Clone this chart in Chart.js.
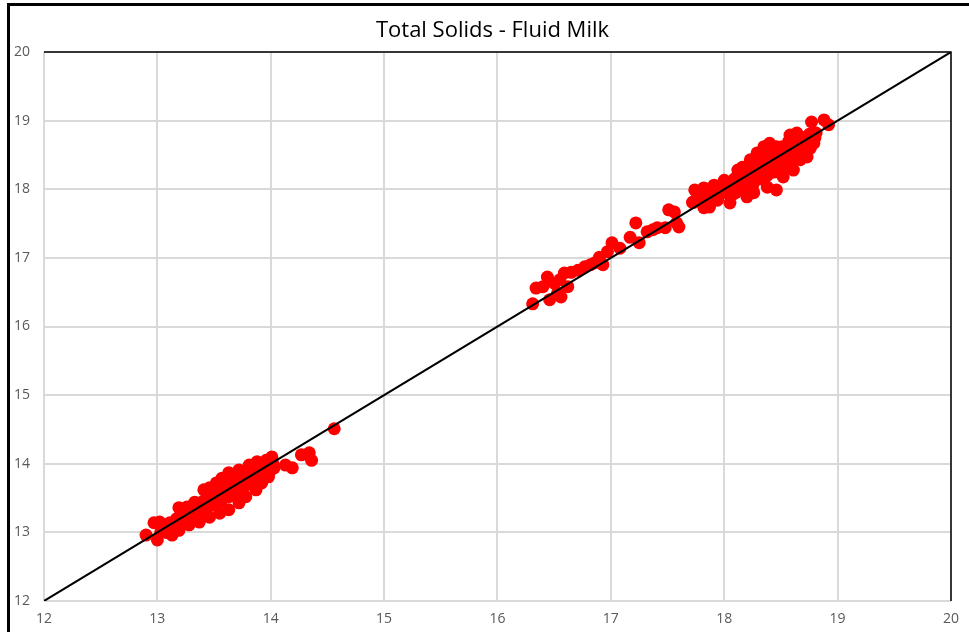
<!DOCTYPE html>
<html>
<head>
<meta charset="utf-8">
<script src="https://cdn.jsdelivr.net/npm/chart.js@4.4.1/dist/chart.umd.min.js"></script>
<style>
  html, body { margin: 0; padding: 0; background: #fff; }
  canvas { display: block; }
</style>
</head>
<body>
<canvas id="milk" width="969" height="632"></canvas>
<script>
// Chart title and axis range
const chartTitle = "Total Solids - Fluid Milk";
const axisMin = 12;
const axisMax = 20;

// 1:1 reference line
const refLineX = [12, 20];
const refLineY = [12, 20];

// low cluster (around 13 - 14.5)
const lowX = [12.90, 12.97, 13.02, 13.00, 13.13, 13.11, 13.19, 13.26, 13.33, 13.41, 13.46, 13.52, 13.57, 13.63, 13.72,
  13.81, 13.88, 14.01, 14.03, 13.98, 13.92, 13.87, 13.78, 13.72, 13.63, 13.55, 13.46, 13.37, 13.28, 13.19,
  14.13, 14.19, 14.27, 14.34, 14.36, 14.56,
  13.05, 13.08, 13.10, 13.15, 13.20, 13.22, 13.25, 13.30, 13.32, 13.35, 13.38, 13.40, 13.42, 13.45, 13.48,
  13.50, 13.52, 13.55, 13.57, 13.60, 13.62, 13.65, 13.67, 13.70, 13.72, 13.75, 13.77, 13.80, 13.82, 13.85,
  13.88, 13.90, 13.93, 13.95, 13.97, 13.60, 13.50, 13.40, 13.70, 13.80, 13.45, 13.58, 13.68, 13.85, 13.92,
  13.03, 13.07, 13.12, 13.17, 13.18, 13.23, 13.27, 13.28, 13.33, 13.36, 13.39, 13.43, 13.44, 13.47, 13.49,
  13.53, 13.54, 13.56, 13.59, 13.61, 13.63, 13.66, 13.68, 13.69, 13.71, 13.74, 13.76, 13.79, 13.81, 13.83,
  13.86, 13.89, 13.91, 13.94, 13.96, 13.99, 14.02, 13.84, 13.64];
const lowY = [12.96, 13.14, 13.15, 12.89, 12.96, 13.14, 13.36, 13.37, 13.44, 13.62, 13.65, 13.72, 13.79, 13.87, 13.91,
  13.98, 14.03, 14.10, 13.94, 13.81, 13.72, 13.62, 13.52, 13.43, 13.33, 13.28, 13.22, 13.15, 13.11, 13.03,
  13.98, 13.94, 14.13, 14.16, 14.05, 14.51,
  13.05, 13.00, 13.08, 13.12, 13.18, 13.25, 13.20, 13.30, 13.22, 13.35, 13.28, 13.45, 13.38, 13.50, 13.40,
  13.55, 13.45, 13.60, 13.50, 13.68, 13.55, 13.70, 13.60, 13.78, 13.65, 13.80, 13.70, 13.88, 13.75, 13.90,
  13.82, 13.95, 13.88, 14.00, 13.90, 13.60, 13.48, 13.35, 13.72, 13.80, 13.56, 13.66, 13.74, 13.78, 13.98,
  13.00, 13.10, 13.05, 13.20, 13.10, 13.30, 13.25, 13.18, 13.32, 13.25, 13.42, 13.32, 13.46, 13.55, 13.45,
  13.52, 13.62, 13.45, 13.58, 13.70, 13.52, 13.64, 13.75, 13.58, 13.70, 13.84, 13.66, 13.76, 13.90, 13.70,
  13.84, 13.98, 13.80, 13.95, 14.05, 13.88, 14.00, 13.96, 13.76];

// middle points (16.3 - 17.9)
const midX = [16.31, 16.34, 16.40, 16.44, 16.46, 16.50, 16.53, 16.55, 16.59, 16.62, 16.56, 16.65, 16.71, 16.77,
  16.82, 16.86, 16.90, 16.97, 16.93, 17.01, 17.08, 17.17, 17.22, 17.25, 17.32, 17.37, 17.41, 17.48, 17.51,
  17.56, 17.60, 17.58, 17.72, 17.76, 17.82, 17.87, 17.85];
const midY = [16.33, 16.56, 16.58, 16.72, 16.39, 16.63, 16.49, 16.68, 16.78, 16.58, 16.43, 16.79, 16.82, 16.87,
  16.90, 16.93, 17.01, 17.09, 16.90, 17.22, 17.14, 17.30, 17.51, 17.22, 17.38, 17.41, 17.44, 17.44, 17.70,
  17.67, 17.45, 17.51, 17.81, 17.87, 17.73, 17.77, 17.87];

// high cluster (17.7 - 18.9)
const highX = [18.77, 18.88, 18.92, 18.81, 18.79, 18.58, 18.64, 18.70, 18.67, 18.55, 18.40, 18.46, 18.35, 18.29,
  18.23, 18.16, 18.11, 18.00, 17.91, 17.82, 17.74, 17.73, 17.87, 17.94, 18.05, 18.20, 18.26, 18.38, 18.46,
  18.52, 18.61, 18.73,
  17.80, 17.85, 17.90, 17.95, 18.00, 18.02, 18.05, 18.08, 18.10, 18.12, 18.15, 18.18, 18.20, 18.22, 18.25,
  18.27, 18.30, 18.32, 18.35, 18.37, 18.40, 18.42, 18.45, 18.47, 18.50, 18.52, 18.55, 18.58, 18.60, 18.62,
  18.65, 18.68, 18.70, 18.72, 18.75, 18.78, 18.30, 18.20, 18.40, 18.10, 18.35, 18.45, 18.25, 18.15, 18.55,
  17.78, 17.83, 17.88, 17.93, 17.97, 18.03, 18.07, 18.09, 18.13, 18.14, 18.17, 18.19, 18.21, 18.24, 18.26,
  18.28, 18.31, 18.33, 18.34, 18.36, 18.38, 18.41, 18.43, 18.44, 18.48, 18.49, 18.51, 18.53, 18.56, 18.57,
  18.59, 18.61, 18.63, 18.66, 18.69, 18.71, 18.74, 18.76, 18.80, 18.22, 18.12];
const highY = [18.98, 19.01, 18.94, 18.82, 18.67, 18.79, 18.82, 18.72, 18.43, 18.32, 18.67, 18.62, 18.62, 18.53,
  18.43, 18.32, 18.18, 18.13, 18.06, 18.02, 17.99, 17.81, 17.74, 17.84, 17.80, 17.89, 17.95, 18.03, 17.99,
  18.18, 18.28, 18.47,
  17.85, 17.90, 17.95, 17.90, 18.00, 17.95, 18.05, 17.98, 18.10, 18.02, 18.15, 18.08, 18.20, 18.12, 18.28,
  18.18, 18.35, 18.22, 18.40, 18.30, 18.45, 18.35, 18.50, 18.40, 18.55, 18.45, 18.60, 18.50, 18.65, 18.55,
  18.70, 18.62, 18.75, 18.65, 18.80, 18.72, 18.45, 18.30, 18.55, 17.95, 18.15, 18.30, 18.05, 18.00, 18.38,
  17.90, 17.78, 17.95, 17.85, 18.05, 18.08, 17.92, 18.15, 18.20, 18.00, 18.22, 18.05, 18.25, 18.10, 18.35,
  18.25, 18.15, 18.42, 18.28, 18.50, 18.20, 18.38, 18.58, 18.25, 18.48, 18.35, 18.62, 18.38, 18.52, 18.70,
  18.42, 18.58, 18.75, 18.55, 18.68, 18.50, 18.72, 18.60, 18.75, 18.35, 18.28];

function toPoints(xs, ys) {
  return xs.map((x, i) => ({ x: x, y: ys[i] }));
}

const milkPoints = toPoints(lowX, lowY).concat(toPoints(midX, midY), toPoints(highX, highY));

// frame round the picture, title, and black top/right edge of the plot
const framePlugin = {
  id: "frame",
  beforeDraw(chart) {
    const ctx = chart.ctx;
    const a = chart.chartArea;
    ctx.save();
    ctx.fillStyle = "#fff";
    ctx.fillRect(0, 0, chart.width, chart.height);
    ctx.fillStyle = "#000";
    ctx.fillRect(7, 3, 3, chart.height - 3);
    ctx.fillRect(7, 3, chart.width - 7, 3);
    // title, a bit right of the plot centre like the original
    ctx.font = "22px 'Open Sans', sans-serif";
    ctx.textAlign = "center";
    ctx.textBaseline = "middle";
    ctx.fillText(chartTitle, (a.left + a.right) / 2 - 5, 31);
    ctx.restore();
  },
  afterDatasetsDraw(chart) {
    const a = chart.chartArea;
    const ctx = chart.ctx;
    ctx.save();
    ctx.strokeStyle = "#000";
    ctx.lineWidth = 1.5;
    ctx.beginPath();
    ctx.moveTo(a.left, a.top);
    ctx.lineTo(a.right, a.top);
    ctx.lineTo(a.right, a.bottom);
    ctx.stroke();
    ctx.restore();
  }
};

const context = document.getElementById("milk").getContext("2d");
new Chart(context, {
  type: "scatter",
  data: {
    datasets: [{
      type: "line",
      data: toPoints(refLineX, refLineY),
      borderColor: "#000",
      borderWidth: 2,
      pointRadius: 0,
      fill: false,
      order: 0
    }, {
      data: milkPoints,
      backgroundColor: "#ff0000",
      borderWidth: 0,
      pointRadius: 6.5,
      order: 1
    }]
  },
  options: {
    responsive: false,
    animation: false,
    layout: { padding: { left: 0, right: 14, top: 52, bottom: 0 } },
    plugins: {
      legend: { display: false },
      tooltip: { enabled: false },
      title: { display: false }
    },
    scales: {
      x: {
        type: "linear",
        min: axisMin,
        max: axisMax,
        afterFit(scale) { scale.height = 31; },
        border: { display: false },
        grid: { color: "#d9d9d9", lineWidth: 2, drawTicks: false },
        ticks: {
          stepSize: 1,
          padding: 10,
          color: "#595959",
          font: { family: "'Open Sans', sans-serif", size: 14 }
        }
      },
      y: {
        type: "linear",
        min: axisMin,
        max: axisMax,
        afterFit(scale) { scale.width = 44; },
        border: { display: false },
        grid: { color: "#d9d9d9", lineWidth: 2, drawTicks: false },
        ticks: {
          stepSize: 1,
          padding: 14,
          color: "#595959",
          font: { family: "'Open Sans', sans-serif", size: 14 }
        }
      }
    }
  },
  plugins: [framePlugin]
});
</script>
</body>
</html>
